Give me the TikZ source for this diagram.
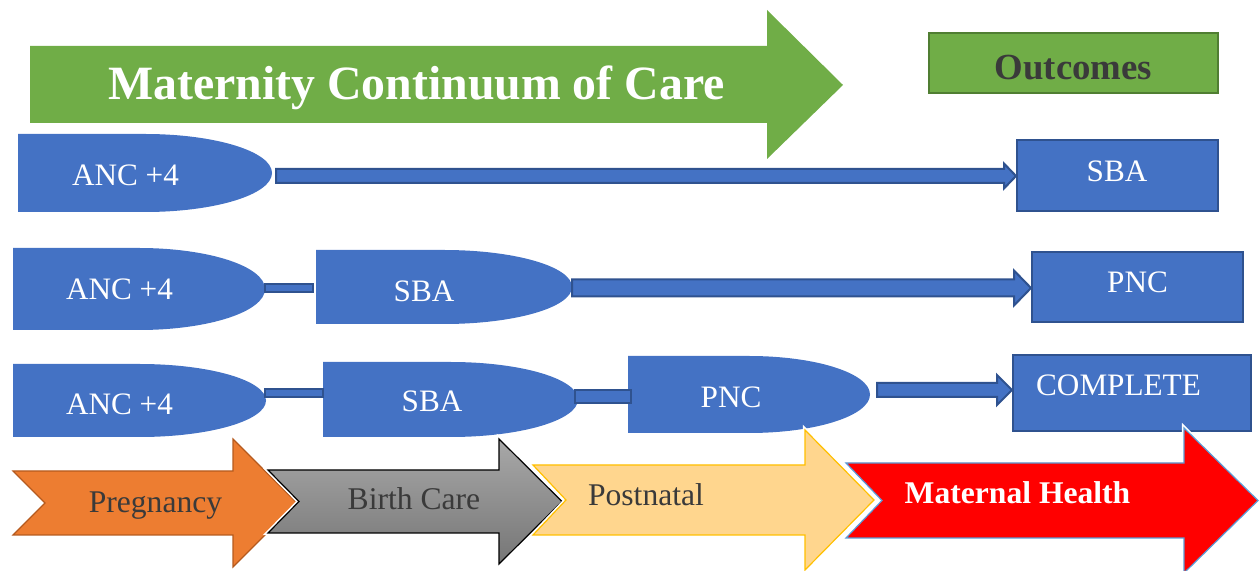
\documentclass[tikz,border=0pt]{standalone}
\usepackage{fontspec}
\setmainfont{Liberation Serif}
\usetikzlibrary{calc}

\definecolor{ppblue}{HTML}{4472C4}
\definecolor{ppblueline}{HTML}{2F528F}
\definecolor{ppgreen}{HTML}{70AD47}
\definecolor{ppgreenline}{HTML}{507E32}
\definecolor{pporange}{HTML}{ED7D31}
\definecolor{pporangeline}{HTML}{B55A1E}
\definecolor{ppgold}{HTML}{FFC000}
\definecolor{pplight}{HTML}{FFD68E}
\definecolor{ppgraytop}{HTML}{A8A8A8}
\definecolor{ppgraybot}{HTML}{767676}
\definecolor{ppsky}{HTML}{5B9BD5}
\definecolor{pptext}{HTML}{3A3A3A}

\tikzset{
  dslot/.style 2 args={rectangle, minimum width=#1*0.5pt, minimum height=#2*0.5pt,
    inner sep=0pt, outer sep=0pt},
  outbox/.style 2 args={rectangle, draw=ppblueline, fill=ppblue, line width=1pt,
    minimum width=#1*0.5pt, minimum height=#2*0.5pt, inner sep=0pt},
  conn/.style={draw=ppblueline, fill=ppblue, line width=1pt, line join=miter},
  celltext/.style={anchor=base, text=white, inner sep=0pt,
    font=\fontsize{15.6pt}{18pt}\selectfont},
  stagetext/.style={anchor=base, text=pptext, inner sep=0pt,
    font=\fontsize{15.8pt}{18pt}\selectfont},
  stage/.style={line width=0.6pt, line join=miter},
  glow/.style={preaction={draw=white, line width=2.2pt}},
}

% half-ellipse "delay" outline filled inside a named slot node
\newcommand{\delayfill}[1]{%
  \fill[ppblue] let \p1=(#1.north west), \p2=(#1.south east) in
    (\x1,\y1) -- ({(\x1+\x2)/2},\y1)
    arc[start angle=90, end angle=-90, x radius={(\x2-\x1)/2}, y radius={(\y1-\y2)/2}]
    -- (\x1,\y2) -- cycle;}

% block arrow: tail point, target, half shaft, half head, head length
\newcommand{\fatarrow}[5]{%
  \path[conn] let \p1=(#1), \p2=(#2) in
    (\x1,\y1+#3) -- (\x2-#5,\y1+#3) -- (\x2-#5,\y1+#4) -- (\x2,\y1)
    -- (\x2-#5,\y1-#4) -- (\x2-#5,\y1-#3) -- (\x1,\y1-#3) -- cycle;}

% plain bar link: tail point, end point, half height
\newcommand{\linkbar}[3]{%
  \path[conn] let \p1=(#1), \p2=(#2) in (\x1,\y1+#3) rectangle (\x2,\y1-#3);}

\begin{document}
\begin{tikzpicture}[x=0.5pt, y=0.5pt]
\useasboundingbox (0,0) rectangle (1259,-571);

% title arrow
\fill[ppgreen] (30,-46) -- (767,-46) -- (767,-10) -- (843,-85) -- (767,-159)
  -- (767,-123) -- (30,-123) -- cycle;
\node[anchor=base, text=white, inner sep=0pt, font=\fontsize{23.9pt}{28pt}\selectfont\bfseries]
  (title) at (416.5,-100) {Maternity Continuum of Care};

% outcomes header
\node[rectangle, draw=ppgreenline, fill=ppgreen, line width=1pt,
  minimum width=289*0.5pt, minimum height=60*0.5pt, inner sep=0pt] (outhead) at (1073.5,-63) {};
\node[anchor=base, text=pptext, inner sep=0pt, font=\fontsize{18.4pt}{22pt}\selectfont\bfseries]
  (outhead-t) at (1073.5,-80) {Outcomes};

% care steps
\node[dslot={254}{78}] (anc1) at (145,-173) {};
\node[dslot={252}{82}] (anc2) at (139,-289) {};
\node[dslot={256}{74}] (sba2) at (444,-287) {};
\node[dslot={253}{73}] (anc3) at (139.5,-400.5) {};
\node[dslot={255}{75}] (sba3) at (450.5,-399.5) {};
\node[dslot={242}{77}] (pnc3) at (749,-394.5) {};
\foreach \s in {anc1,anc2,sba2,anc3,sba3,pnc3} {\delayfill{\s}}

% outcome boxes
\node[outbox={201}{71}] (sba1o) at (1117.5,-175.5) {};
\node[outbox={211}{70}] (pnc2o) at (1137.5,-287) {};
\node[outbox={238}{76}] (comp3o) at (1132,-393) {};

% links
\fatarrow{$(anc1.east)+(4,-3)$}{sba1o.west}{3.5pt}{6.25pt}{6pt}
\linkbar{$(anc2.east)+(0,1)$}{$(sba2.west)+(-3,0)$}{2pt}
\fatarrow{$(sba2.east)+(0,-1)$}{pnc2o.west}{4.25pt}{8.75pt}{8.5pt}
\linkbar{$(anc3.east)+(-1,7.5)$}{sba3.west}{2pt}
\linkbar{$(sba3.east)+(-3,3)$}{$(pnc3.west)+(3,0)$}{3.25pt}
\fatarrow{$(pnc3.east)+(7,4.5)$}{comp3o.west}{3.5pt}{7.5pt}{7.5pt}

% labels
\node[celltext] (anc1-t) at (125.5,-186) {ANC +4};
\node[celltext] (sba1o-t) at (1117,-182) {SBA};
\node[celltext] (anc2-t) at (119.5,-300) {ANC +4};
\node[celltext] (sba2-t) at (424,-302) {SBA};
\node[celltext] (pnc2o-t) at (1137.5,-293) {PNC};
\node[celltext] (anc3-t) at (119.5,-415) {ANC +4};
\node[celltext] (sba3-t) at (432,-412) {SBA};
\node[celltext] (pnc3-t) at (731,-408) {PNC};
\node[celltext] (comp3o-t) at (1118.5,-396) {COMPLETE};

% stage arrows
\path[stage, fill=pporange, draw=pporangeline]
  (13,-471) -- (233,-471) -- (233,-439) -- (297,-503) -- (233,-567)
  -- (233,-535) -- (13,-535) -- (45,-503) -- cycle;
\path[stage, glow, top color=ppgraytop, bottom color=ppgraybot, draw=black]
  (268,-470) -- (499,-470) -- (499,-439) -- (562,-501.5) -- (499,-564)
  -- (499,-533) -- (268,-533) -- (299,-501.5) -- cycle;
\path[stage, glow, fill=pplight, draw=ppgold]
  (533,-465) -- (805,-465) -- (805,-430) -- (874,-500) -- (805,-570)
  -- (805,-535) -- (533,-535) -- (566,-500) -- cycle;
\path[stage, glow, fill=red, draw=ppsky]
  (846,-463) -- (1184,-463) -- (1184,-428) -- (1258,-500.5) -- (1184,-573)
  -- (1184,-538) -- (846,-538) -- (882,-500.5) -- cycle;

\node[stagetext] (preg-t) at (155.5,-513) {Pregnancy};
\node[stagetext] (birth-t) at (414,-510) {Birth Care};
\node[stagetext] (post-t) at (646,-506) {Postnatal};
\node[anchor=base, text=white, inner sep=0pt, font=\fontsize{15.8pt}{18pt}\selectfont\bfseries]
  (mat-t) at (1017.5,-504) {Maternal Health};
\end{tikzpicture}
\end{document}
